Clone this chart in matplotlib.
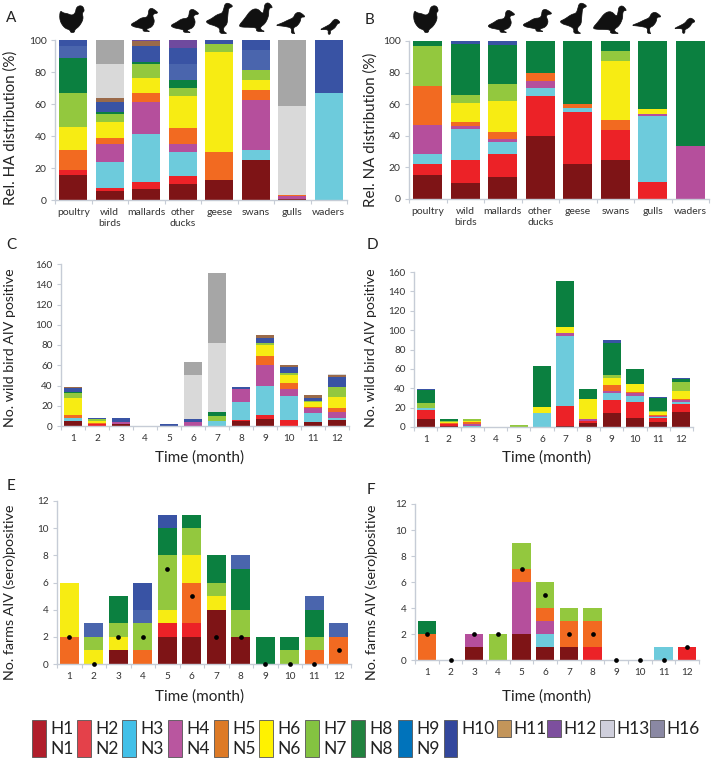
import numpy as np
import matplotlib
matplotlib.use("Agg")
import matplotlib.pyplot as plt
from matplotlib.patches import Rectangle, Polygon

plt.rcParams['font.family'] = ['Lato', 'DejaVu Sans']

W, H = 714, 761

BIRDS = ['poultry', 'wild\nbirds', 'mallards', 'other\nducks', 'geese', 'swans', 'gulls', 'waders']
MONTHS = [str(m) for m in range(1, 13)]

COLORS = {'1': '#7e1416', '2': '#ec2227', '3': '#6dcbdc', '4': '#b54f9c', '5': '#f26a21',
          '6': '#f7ec13', '7': '#93c83e', '8': '#0b8040', '9': '#4a65ad', '10': '#3953a4',
          '11': '#9a6a4a', '12': '#6f4a9e', '13': '#d9d9d9', '16': '#a6a6a6'}

A_SERIES = {
    '1': [15.5, 5.5, 7, 10, 12.5, 25, 0.5, 0],
    '2': [3, 2.2, 4.2, 5, 0, 0, 0, 0],
    '3': [0, 16.3, 29.8, 15, 0, 6.2, 0, 66.7],
    '4': [0, 10.8, 20, 5, 0, 31.1, 1.8, 0],
    '5': [13, 4.2, 5.7, 10, 17.5, 6.2, 1, 0],
    '6': [14, 10, 9.3, 20, 62.5, 6.5, 0, 0],
    '7': [21.5, 5, 9, 5, 5, 6.2, 0, 0],
    '8': [21.5, 1, 1.5, 5, 0, 0, 0, 0],
    '9': [7.5, 0, 0, 10, 0, 12.5, 0, 0],
    '10': [4, 6.5, 9.8, 10, 2.5, 6.3, 0, 33.3],
    '11': [0, 2.5, 2.9, 0, 0, 0, 0, 0],
    '12': [0, 0, 0.8, 5, 0, 0, 0, 0],
    '13': [0, 21, 0, 0, 0, 0, 55.5, 0],
    '16': [0, 15, 0, 0, 0, 0, 41.2, 0],
}
B_SERIES = {
    '1': [15.4, 10.3, 14, 40, 22.4, 25, 0, 0],
    '2': [6.6, 14.7, 14.7, 25, 32.6, 18.7, 11, 0],
    '3': [6.3, 19.5, 7.6, 5, 2.5, 0, 41.7, 0],
    '4': [18.5, 1.9, 1.7, 5, 0, 0, 1.1, 33.3],
    '5': [24.9, 2.6, 4.2, 5, 2.5, 6.3, 0, 0],
    '6': [0, 11.8, 19.8, 0, 0, 37.3, 3.4, 0],
    '7': [25.1, 4.8, 10.6, 0, 0, 6.4, 0, 0],
    '8': [3.2, 32.7, 25.1, 20, 40, 6.3, 42.6, 66.7],
    '10': [0, 1.7, 2.3, 0, 0, 0, 0.2, 0],
}
C_SERIES = {
    '1': [5, 0, 2, 0, 0, 0, 0, 5, 7, 0, 4, 6],
    '2': [0, 2, 0, 0, 0, 0, 0, 1, 4, 6, 0, 0],
    '3': [3, 0, 0, 0, 0, 0, 5, 18, 29, 24, 9, 2],
    '4': [0, 0, 2, 0, 0, 4, 0, 13, 20, 7, 5, 6],
    '5': [3, 1, 0, 0, 0, 0, 0, 0, 9, 5, 1, 4],
    '6': [17, 2, 0, 0, 0, 0, 0, 0, 11, 8, 5, 11],
    '7': [5, 2, 0, 0, 0, 0, 5, 0, 2, 2, 1, 10],
    '8': [1, 0, 0, 0, 0, 0, 4, 0, 0, 0, 0, 0],
    '10': [4, 1, 4, 0, 2, 3, 0, 2, 5, 6, 3, 9],
    '11': [1, 0, 0, 0, 0, 0, 0, 0, 3, 2, 3, 2],
    '13': [0, 0, 0, 0, 0, 43, 68, 0, 0, 0, 0, 1],
    '16': [0, 0, 0, 0, 0, 13, 69, 0, 0, 0, 0, 0],
}
D_SERIES = {
    '1': [8, 1, 0, 0, 0, 0, 1, 4, 14, 9, 5, 15],
    '2': [10, 2, 0, 0, 0, 0, 21, 2, 14, 17, 4, 9],
    '3': [2, 0, 1, 0, 0, 14, 72, 0, 7, 6, 1, 2],
    '4': [0, 0, 2, 0, 0, 0, 3, 2, 2, 3, 1, 2],
    '5': [0, 1, 2, 0, 0, 0, 0, 0, 6, 1, 1, 1],
    '6': [0, 1, 1, 0, 0, 7, 6, 21, 8, 8, 4, 8],
    '7': [5, 1, 2, 0, 2, 0, 0, 0, 3, 0, 1, 9],
    '8': [13, 2, 0, 0, 0, 42, 48, 10, 33, 16, 13, 4],
    '10': [1, 0, 0, 0, 0, 0, 0, 0, 3, 0, 1, 1],
}
E_SERIES = {
    '1': [0, 0, 1, 0, 2, 2, 4, 2, 0, 0, 0, 0],
    '2': [0, 0, 0, 0, 1, 1, 0, 0, 0, 0, 0, 0],
    '5': [2, 0, 0, 1, 0, 3, 0, 0, 0, 0, 1, 2],
    '6': [4, 1, 1, 0, 1, 2, 1, 0, 0, 0, 0, 0],
    '7': [0, 1, 1, 2, 4, 2, 1, 2, 0, 1, 1, 0],
    '8': [0, 0, 2, 0, 2, 1, 2, 3, 2, 1, 2, 0],
    '9': [0, 1, 0, 1, 0, 0, 0, 1, 0, 0, 1, 1],
    '10': [0, 0, 0, 2, 1, 0, 0, 0, 0, 0, 0, 0],
}
F_SERIES = {
    '1': [0, 0, 1, 0, 2, 1, 1, 0, 0, 0, 0, 0],
    '2': [0, 0, 0, 0, 0, 0, 0, 1, 0, 0, 0, 1],
    '3': [0, 0, 0, 0, 0, 1, 0, 0, 0, 0, 1, 0],
    '4': [0, 0, 1, 0, 4, 1, 0, 0, 0, 0, 0, 0],
    '5': [2, 0, 0, 0, 1, 1, 2, 2, 0, 0, 0, 0],
    '7': [0, 0, 0, 2, 2, 2, 1, 1, 0, 0, 0, 0],
    '8': [1, 0, 0, 0, 0, 0, 0, 0, 0, 0, 0, 0],
}
E_DOTS = [2, 0, 2, 2, 7, 5, 2, 2, 0, 0, 0, 1]
F_DOTS = [2, 0, 2, 2, 7, 5, 2, 2, 0, 0, 0, 1]

LEGEND_PAIRS = [('H1', 'N1', '#b01e2b'), ('H2', 'N2', '#e4414a'), ('H3', 'N3', '#42c0e8'),
                ('H4', 'N4', '#b9569f'), ('H5', 'N5', '#dd7a26'), ('H6', 'N6', '#fff200'),
                ('H7', 'N7', '#84c341'), ('H8', 'N8', '#21823f'), ('H9', 'N9', '#0073bb')]
LEGEND_EXTRA = [('H10', '#33479c'), ('H11', '#c3955a'), ('H12', '#7d4f9e'),
                ('H13', '#cfcfdc'), ('H16', '#8a88a3')]

fig = plt.figure(figsize=(W / 100, H / 100), dpi=100, facecolor='white')
AXC = '#c6ccd6'
TXT = '#333333'


def px_text(x, y, s, **kw):
    return fig.text(x / W, 1 - y / H, s, **kw)


def panel(box, series, cats, ymax, yticks, barw, tick_fs=7.5, dots=None):
    x0, x1, ytop, ybot = box
    ax = fig.add_axes([x0 / W, 1 - ybot / H, (x1 - x0) / W, (ybot - ytop) / H])
    n = len(cats)
    x = np.arange(n)
    bottom = np.zeros(n)
    for key, vals in series.items():
        vals = np.array(vals, float)
        ax.bar(x, vals, bottom=bottom, width=barw, color=COLORS[key], linewidth=0, zorder=2)
        bottom += vals
    ax.set_xlim(-0.5, n - 0.5)
    ax.set_ylim(0, ymax)
    for s in ('top', 'right'):
        ax.spines[s].set_visible(False)
    for s in ('left', 'bottom'):
        ax.spines[s].set_color(AXC)
        ax.spines[s].set_linewidth(1)
    ax.set_yticks(yticks)
    ax.set_xticks(np.arange(n + 1) - 0.5)
    ax.set_xticklabels([])
    ax.set_xticks(x, minor=True)
    ax.set_xticklabels(cats, minor=True, fontsize=tick_fs, color=TXT, linespacing=1.25, va='top')
    ax.tick_params(axis='x', which='major', length=3, width=0.8, color=AXC)
    ax.tick_params(axis='x', which='minor', length=0, pad=6)
    ax.tick_params(axis='y', length=3, width=0.8, color=AXC, labelsize=tick_fs, labelcolor=TXT, pad=3)
    if dots is not None:
        ax.plot(x, dots, ls='', marker='o', ms=3.4, color='black', mew=0, zorder=5, clip_on=False)
    ax.patch.set_alpha(0)
    return ax


panel((55, 347, 40, 200), A_SERIES, BIRDS, 100, range(0, 101, 20), 0.77)
panel((409, 709, 41, 199), B_SERIES, BIRDS, 100, range(0, 101, 20), 0.77)
panel((61, 349, 264, 426), C_SERIES, MONTHS, 160, range(0, 161, 20), 0.77, tick_fs=7.2)
panel((414, 693, 272, 427), D_SERIES, MONTHS, 160, range(0, 161, 20), 0.77, tick_fs=7.2)
panel((57, 351, 501, 664), E_SERIES, MONTHS, 12, range(0, 13, 2), 0.77, tick_fs=7.2, dots=E_DOTS)
panel((415, 699, 504, 660), F_SERIES, MONTHS, 12, range(0, 13, 2), 0.77, tick_fs=7.2, dots=F_DOTS)

# panel letters
for (x, y, s) in [(6, 18, 'A'), (365, 20, 'B'), (6, 245, 'C'), (367, 245, 'D'), (7, 486, 'E'), (367, 490, 'F')]:
    px_text(x, y, s, fontsize=11, color='#222222', va='center', ha='left')

# axis titles
for (x, y, s, fs) in [(11, 128, 'Rel. HA distribution (%)', 10.9), (371, 130, 'Rel. NA distribution (%)', 10.9),
                      (10, 348, 'No. wild bird AIV positive', 10.2), (371, 348, 'No. wild bird AIV positive', 10.2),
                      (10, 592, 'No. farms AIV (sero)positive', 10.3), (372, 592, 'No. farms AIV (sero)positive', 10.3)]:
    px_text(x, y, s, fontsize=fs, rotation=90, color='#222222', va='center', ha='center')
for (x, y) in [(200, 458), (547, 458), (200, 697), (547, 697)]:
    px_text(x, y, 'Time (month)', fontsize=11, color='#222222', va='center', ha='center')


def smooth(points, rounds=2):
    pts = np.array(points, float)
    for _ in range(rounds):
        nxt = np.roll(pts, -1, axis=0)
        pts = np.column_stack([0.75 * pts + 0.25 * nxt, 0.25 * pts + 0.75 * nxt]).reshape(-1, 2)
    return pts


# bird silhouettes (decorative outlines in a unit box)
CHICKEN = [(0.0, 0.86), (0.14, 0.76), (0.3, 0.74), (0.5, 0.66), (0.64, 0.76), (0.68, 0.98), (0.82, 1.06), (0.96, 1.02),
           (1.02, 0.84), (0.92, 0.76), (0.98, 0.52), (0.8, 0.22), (0.62, 0.1), (0.6, -0.02), (0.44, -0.02), (0.42, 0.08),
           (0.18, 0.16), (-0.02, 0.46)]
DUCK = [(-0.02, 0.3), (0.2, 0.44), (0.38, 0.6), (0.58, 0.62), (0.64, 0.74), (0.66, 0.98), (0.76, 1.04), (0.86, 0.98),
        (1.02, 0.82), (0.84, 0.78), (0.8, 0.68), (0.88, 0.44), (0.78, 0.18), (0.58, 0.1), (0.6, 0.02), (0.72, -0.02),
        (0.44, -0.02), (0.46, 0.1), (0.22, 0.16), (0.08, 0.2)]
GOOSE = [(-0.02, 0.4), (0.18, 0.48), (0.42, 0.64), (0.6, 0.68), (0.66, 0.84), (0.7, 1.0), (0.82, 1.04), (1.02, 0.92),
         (0.84, 0.86), (0.82, 0.72), (0.8, 0.5), (0.78, 0.3), (0.64, 0.18), (0.66, 0.04), (0.8, -0.02), (0.5, -0.02),
         (0.52, 0.16), (0.3, 0.26), (0.12, 0.3)]
SWAN = [(-0.02, 0.18), (0.16, 0.44), (0.36, 0.78), (0.56, 0.84), (0.72, 0.62), (0.76, 0.8), (0.78, 1.0), (0.9, 1.06),
        (1.03, 0.86), (0.93, 0.86), (0.9, 0.76), (0.9, 0.56), (0.8, 0.28), (0.64, 0.14), (0.68, 0.03), (0.8, -0.02),
        (0.52, -0.02), (0.54, 0.12), (0.3, 0.14), (0.12, 0.14)]
GULL = [(-0.02, 0.36), (0.22, 0.48), (0.42, 0.62), (0.6, 0.72), (0.66, 0.92), (0.78, 1.0), (0.9, 0.92), (1.02, 0.76),
        (0.86, 0.76), (0.84, 0.54), (0.72, 0.32), (0.6, 0.26), (0.62, 0.0), (0.66, -0.02), (0.52, -0.02), (0.54, 0.24),
        (0.36, 0.3), (0.16, 0.34)]
WADER = [(-0.02, 0.28), (0.3, 0.5), (0.52, 0.66), (0.66, 0.92), (0.82, 1.02), (1.03, 0.76), (0.86, 0.68), (0.76, 0.42),
         (0.56, 0.24), (0.52, 0.24), (0.52, -0.02), (0.4, -0.02), (0.42, 0.26), (0.26, 0.3)]
SHAPES = [CHICKEN, DUCK, DUCK, GOOSE, SWAN, GULL, WADER]
BOXES_A = [(60, 84, 7, 32), (131, 158, 9, 31), (171, 199, 10, 32), (206, 233, 4, 33), (239, 272, 4, 31),
           (276, 305, 12, 33), (320, 340, 19, 34)]
BOXES_B = [(414, 438, 7, 32), (488, 515, 11, 32), (523, 552, 10, 31), (560, 587, 4, 33), (593, 626, 7, 33),
           (632, 661, 12, 33), (674, 695, 18, 33)]
for boxes in (BOXES_A, BOXES_B):
    for shape, (x0, x1, y0, y1) in zip(SHAPES, boxes):
        pts = [((x0 + (x1 - x0) * u) / W, 1 - (y1 - (y1 - y0) * v) / H) for u, v in smooth(shape)]
        fig.add_artist(Polygon(pts, closed=True, transform=fig.transFigure, facecolor='#111111',
                               edgecolor='#111111', linewidth=0.5, joinstyle='round'))

# legend
LEG_X = [32, 77, 122, 168, 214, 259, 305, 351, 398]
LFS = 12.5


def swatch(x, y0, y1, w, c):
    fig.add_artist(Rectangle((x / W, 1 - y1 / H), w / W, (y1 - y0) / H, transform=fig.transFigure,
                             facecolor=c, edgecolor='#555555', linewidth=0.6))


for x, (h, n, c) in zip(LEG_X, LEGEND_PAIRS):
    swatch(x, 720, 757, 14, c)
    px_text(x + 18, 729, h, fontsize=LFS, color='#222222', va='center', ha='left')
    px_text(x + 18, 749, n, fontsize=LFS, color='#222222', va='center', ha='left')
swatch(444, 720, 757, 13, LEGEND_EXTRA[0][1])
px_text(461, 729, LEGEND_EXTRA[0][0], fontsize=LFS, color='#222222', va='center', ha='left')
for x, (h, c) in zip([497, 547, 600, 650], LEGEND_EXTRA[1:]):
    swatch(x, 720, 737, 14, c)
    px_text(x + 16, 729, h, fontsize=LFS, color='#222222', va='center', ha='left')

fig.savefig('out.png', dpi=100, facecolor='white')
